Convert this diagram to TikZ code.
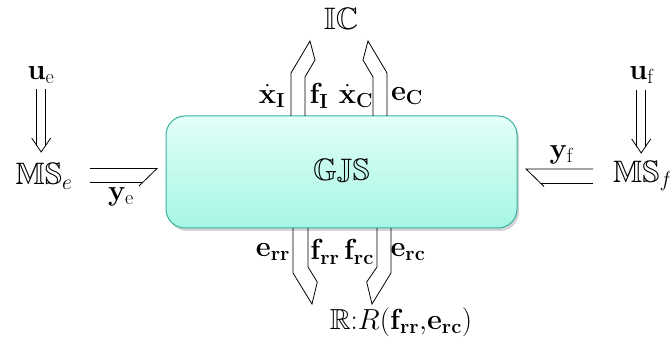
\documentclass[tikz,border=0pt]{standalone}
\usepackage{fix-cm}
\usepackage{amssymb}
\usetikzlibrary{shadows}
\definecolor{boxtop}{RGB}{226,255,248}
\definecolor{boxbot}{RGB}{166,246,228}
\definecolor{boxedge}{RGB}{58,178,158}
\tikzset{
  lbl/.style={inner sep=0pt, font=\fontsize{29}{32}\selectfont},
  bb/.style={inner sep=0pt, font=\fontsize{31}{34}\selectfont},
  harrow/.style={line width=0.8pt, line join=miter},
  gjsbox/.style={draw=boxedge, line width=1pt, rounded corners=19pt,
    top color=boxtop, bottom color=boxbot,
    drop shadow={shadow xshift=2pt, shadow yshift=-3pt, opacity=0.35},
    minimum width=351pt, minimum height=112pt, inner sep=0pt,
    font=\fontsize{31}{34}\selectfont}
}
\begin{document}
\begin{tikzpicture}[x=1pt,y=-1pt]
\useasboundingbox (0,0) rectangle (670,347);
% main box
\node[gjsbox] (gjs) at (341.5,172) {$\mathbb{GJS}$};
% top
\node[bb] (ic) at (341,19) {$\mathbb{IC}$};
\node[lbl] (xi) at (272,96) {$\dot{\mathbf{x}}_{\mathbf{I}}$};
\node[lbl] (fi) at (319,96) {$\mathbf{f}_{\mathbf{I}}$};
\node[lbl] (xc) at (356,96) {$\dot{\mathbf{x}}_{\mathbf{C}}$};
\node[lbl] (ec) at (407,96) {$\mathbf{e}_{\mathbf{C}}$};
\draw[harrow] (291,116)--(291,73)--(310,41)--(315,60)--(305,77)--(305,116);
\draw[harrow] (387,116)--(387,73)--(368,41)--(363,60)--(373,77)--(373,116);
% bottom
\node[lbl] (err) at (273,252) {$\mathbf{e}_{\mathbf{rr}}$};
\node[lbl] (frr) at (325,252) {$\mathbf{f}_{\mathbf{rr}}$};
\node[lbl] (frc) at (359,252) {$\mathbf{f}_{\mathbf{rc}}$};
\node[lbl] (erc) at (408,252) {$\mathbf{e}_{\mathbf{rc}}$};
\node[lbl] (rr) at (401,322) {$\mathbb{R}\mathbf{:}R(\mathbf{f}_{\mathbf{rr}}{,}\mathbf{e}_{\mathbf{rc}})$};
\draw[harrow] (293,228)--(293,273)--(312,304)--(317.3,282)--(308,267)--(308,228);
\draw[harrow] (391,228)--(391,273)--(372,304)--(366.7,282)--(377,267)--(377,228);
% left
\node[lbl] (ue) at (41,75) {$\mathbf{u}_{\mathrm{e}}$};
\node[bb] (mse) at (44,176) {$\mathbb{MS}_e$};
\node[lbl] (ye) at (121,197) {$\mathbf{y}_{\mathrm{e}}$};
\draw[harrow] (36.7,89)--(36.7,145.8);
\draw[harrow] (45.7,89)--(45.7,145.8);
\draw[harrow] (31.7,138)--(41.2,152)--(50.7,138);
\draw[harrow] (90,168.5)--(157,168.5)--(139,186);
\draw[harrow] (90,182.5)--(142.6,182.5);
% right
\node[lbl] (uf) at (642,75) {$\mathbf{u}_{\mathrm{f}}$};
\node[bb,anchor=west] (msf) at (613,176) {$\mathbb{MS}_f$};
\node[lbl] (yf) at (562,155) {$\mathbf{y}_{\mathrm{f}}$};
\draw[harrow] (636.7,90)--(636.7,146.8);
\draw[harrow] (645.7,90)--(645.7,146.8);
\draw[harrow] (631.7,139)--(641.2,153)--(650.7,139);
\draw[harrow] (593,169)--(526,169)--(544,186.5);
\draw[harrow] (593,183)--(540.4,183);
\end{tikzpicture}
\end{document}
